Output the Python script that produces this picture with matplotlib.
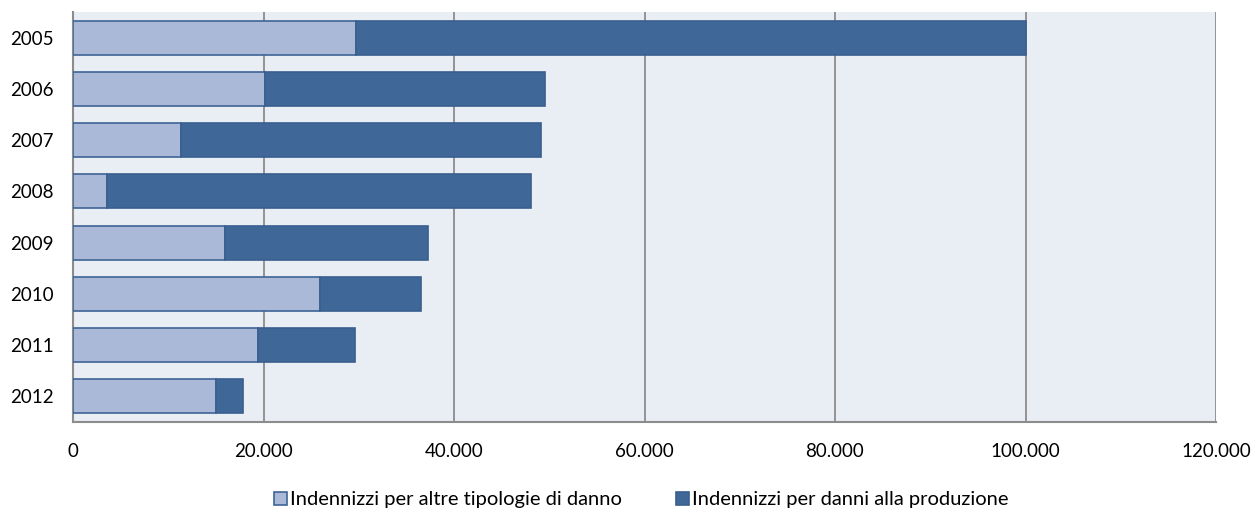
import matplotlib
matplotlib.use("Agg")
import matplotlib.pyplot as plt
from matplotlib.ticker import FuncFormatter

plt.rcParams["font.family"] = ["Lato", "DejaVu Sans"]

# indennizzi per anno (migliaia di euro)
years = ["2005", "2006", "2007", "2008", "2009", "2010", "2011", "2012"]
altre = [29700, 20200, 11300, 3600, 16000, 25900, 19400, 15000]
produzione = [70300, 29400, 37800, 44500, 21300, 10600, 10200, 2800]
labels = ["Indennizzi per altre tipologie di danno",
          "Indennizzi per danni alla produzione"]

fig = plt.figure(figsize=(12.53, 5.09), dpi=100)
ax = fig.add_axes([73 / 1253, 1 - 422 / 509, 1143 / 1253, 410 / 509])
ax.set_facecolor("#E9EDF4")

pos = list(range(len(years)))
h = 0.66
ax.barh(pos, altre, height=h, color="#AAB9D7", edgecolor="#3E6497",
        linewidth=1.2, label=labels[0], zorder=3)
ax.barh(pos, produzione, left=altre, height=h, color="#3F6899",
        edgecolor="#3A5F8E", linewidth=1.2, label=labels[1], zorder=3)

ax.set_ylim(len(years) - 0.5, -0.5)
ax.set_xlim(0, 120000)
ax.set_yticks(pos)
ax.set_yticklabels(years)
ax.set_xticks(range(0, 120001, 20000))
ax.xaxis.set_major_formatter(FuncFormatter(lambda v, _: f"{int(v):,}".replace(",", ".")))
ax.tick_params(axis="both", length=0, labelsize=13.5, colors="black")
ax.tick_params(axis="x", pad=15)
ax.tick_params(axis="y", pad=14)

ax.grid(axis="x", color="#8C8C8C", linewidth=1.3, zorder=1)
for side in ("top", "right"):
    ax.spines[side].set_visible(False)
for side in ("left", "bottom"):
    ax.spines[side].set_color("#8C8C8C")
    ax.spines[side].set_linewidth(1.5)

fig.legend(loc="center", bbox_to_anchor=(641 / 1253, 1 - 500 / 509), ncol=2,
           frameon=False, fontsize=14.5, handlelength=0.65, handleheight=0.65,
           handletextpad=0.15, columnspacing=2.7, borderpad=0)

fig.savefig("out.png", dpi=100)
